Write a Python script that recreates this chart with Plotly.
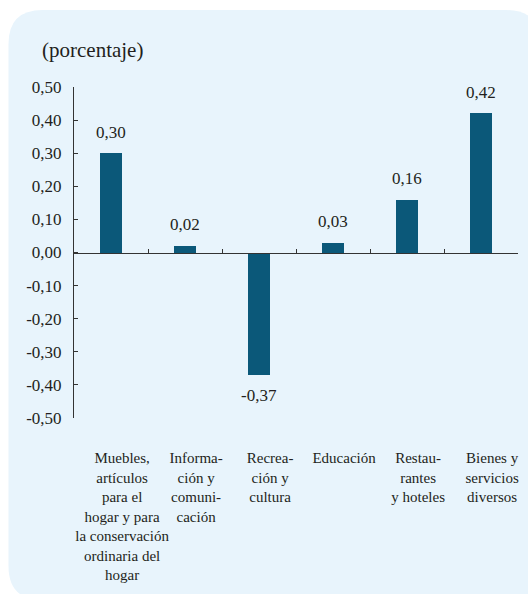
import plotly.graph_objects as go

categories = [
    "Muebles,<br>artículos<br>para el<br>hogar y para<br>la conservación<br>ordinaria del<br>hogar",
    "Informa-<br>ción y<br>comuni-<br>cación",
    "Recrea-<br>ción y<br>cultura",
    "Educación",
    "Restau-<br>rantes<br>y hoteles",
    "Bienes y<br>servicios<br>diversos",
]
values = [0.30, 0.02, -0.37, 0.03, 0.16, 0.42]
value_labels = ["0,30", "0,02", "-0,37", "0,03", "0,16", "0,42"]
y_ticks = [-0.5, -0.4, -0.3, -0.2, -0.1, 0.0, 0.1, 0.2, 0.3, 0.4, 0.5]
y_tick_labels = ["-0,50", "-0,40", "-0,30", "-0,20", "-0,10", "0,00",
                 "0,10", "0,20", "0,30", "0,40", "0,50"]

FONT = "Liberation Serif"
TXT = "#231F20"
BAR = "#0B5879"
PANEL = "#E8F4FC"

W, H = 528, 594
ML, MR, MT, MB = 74, 10, 87, 176
PW = W - ML - MR
PH = H - MT - MB


def px_x(p):
    return (p - ML) / PW


def px_y(p):
    return (H - MB - p) / PH


fig = go.Figure()
fig.add_trace(go.Bar(
    x=categories, y=values, marker_color=BAR, width=0.31,
    marker_line_width=0, xaxis="x", yaxis="y", showlegend=False,
    hoverinfo="skip",
))
fig.add_trace(go.Scatter(
    x=categories, y=values, mode="markers", marker_opacity=0,
    xaxis="x2", yaxis="y", showlegend=False, hoverinfo="skip",
))

for c, v, t in zip(categories, values, value_labels):
    fig.add_annotation(
        x=c, y=v, xref="x", yref="y", text=t, showarrow=False,
        yshift=21 if v >= 0 else -21,
        font=dict(family=FONT, size=17, color=TXT),
    )

# rounded background panel
x0, x1 = px_x(8.5), px_x(540)
yt, yb = px_y(10), px_y(600)
rx, ry = 34 / PW, 34 / PH
path = (
    f"M {x0+rx},{yt} L {x1-rx},{yt} Q {x1},{yt} {x1},{yt-ry} "
    f"L {x1},{yb+ry} Q {x1},{yb} {x1-rx},{yb} "
    f"L {x0+rx},{yb} Q {x0},{yb} {x0},{yb+ry} "
    f"L {x0},{yt-ry} Q {x0},{yt} {x0+rx},{yt} Z"
)
fig.add_shape(type="path", path=path, xref="paper", yref="paper",
              fillcolor=PANEL, line_width=0, layer="below")

fig.add_annotation(
    text="(porcentaje)", xref="paper", yref="paper",
    x=px_x(40), y=px_y(50), xanchor="left", yanchor="middle",
    showarrow=False, font=dict(family=FONT, size=21, color=TXT),
)

fig.update_layout(
    width=W, height=H,
    margin=dict(l=ML, r=MR, t=MT, b=MB),
    paper_bgcolor="white", plot_bgcolor="rgba(0,0,0,0)",
    separators=",.",
    font=dict(family=FONT, color=TXT),
    bargap=0,
    xaxis=dict(
        type="category", categoryorder="array", categoryarray=categories,
        range=[-0.5, 5.5], anchor="free", position=0.5, side="bottom",
        showline=True, linecolor="#333333", linewidth=1,
        ticks="inside", tickson="boundaries", ticklen=4, tickcolor="#333333",
        showticklabels=False, showgrid=False, zeroline=False, fixedrange=True,
    ),
    xaxis2=dict(
        type="category", categoryorder="array", categoryarray=categories,
        range=[-0.65, 5.35], overlaying="x", anchor="y", side="bottom",
        showline=False, ticks="", showgrid=False, zeroline=False,
        tickfont=dict(family=FONT, size=15, color=TXT),
        ticklabelstandoff=29, tickangle=0,
    ),
    yaxis=dict(
        range=[-0.5, 0.5], tickvals=y_ticks, ticktext=y_tick_labels,
        showline=True, linecolor="#333333", linewidth=1,
        ticks="inside", ticklen=4, tickcolor="#333333",
        showgrid=False, zeroline=False,
        tickfont=dict(family=FONT, size=17, color=TXT),
        ticklabelstandoff=8,
    ),
)

fig.write_html(
    "out.html",
    config={"displayModeBar": False},
    post_script="document.body.style.margin='0';document.body.style.padding='0';",
)
